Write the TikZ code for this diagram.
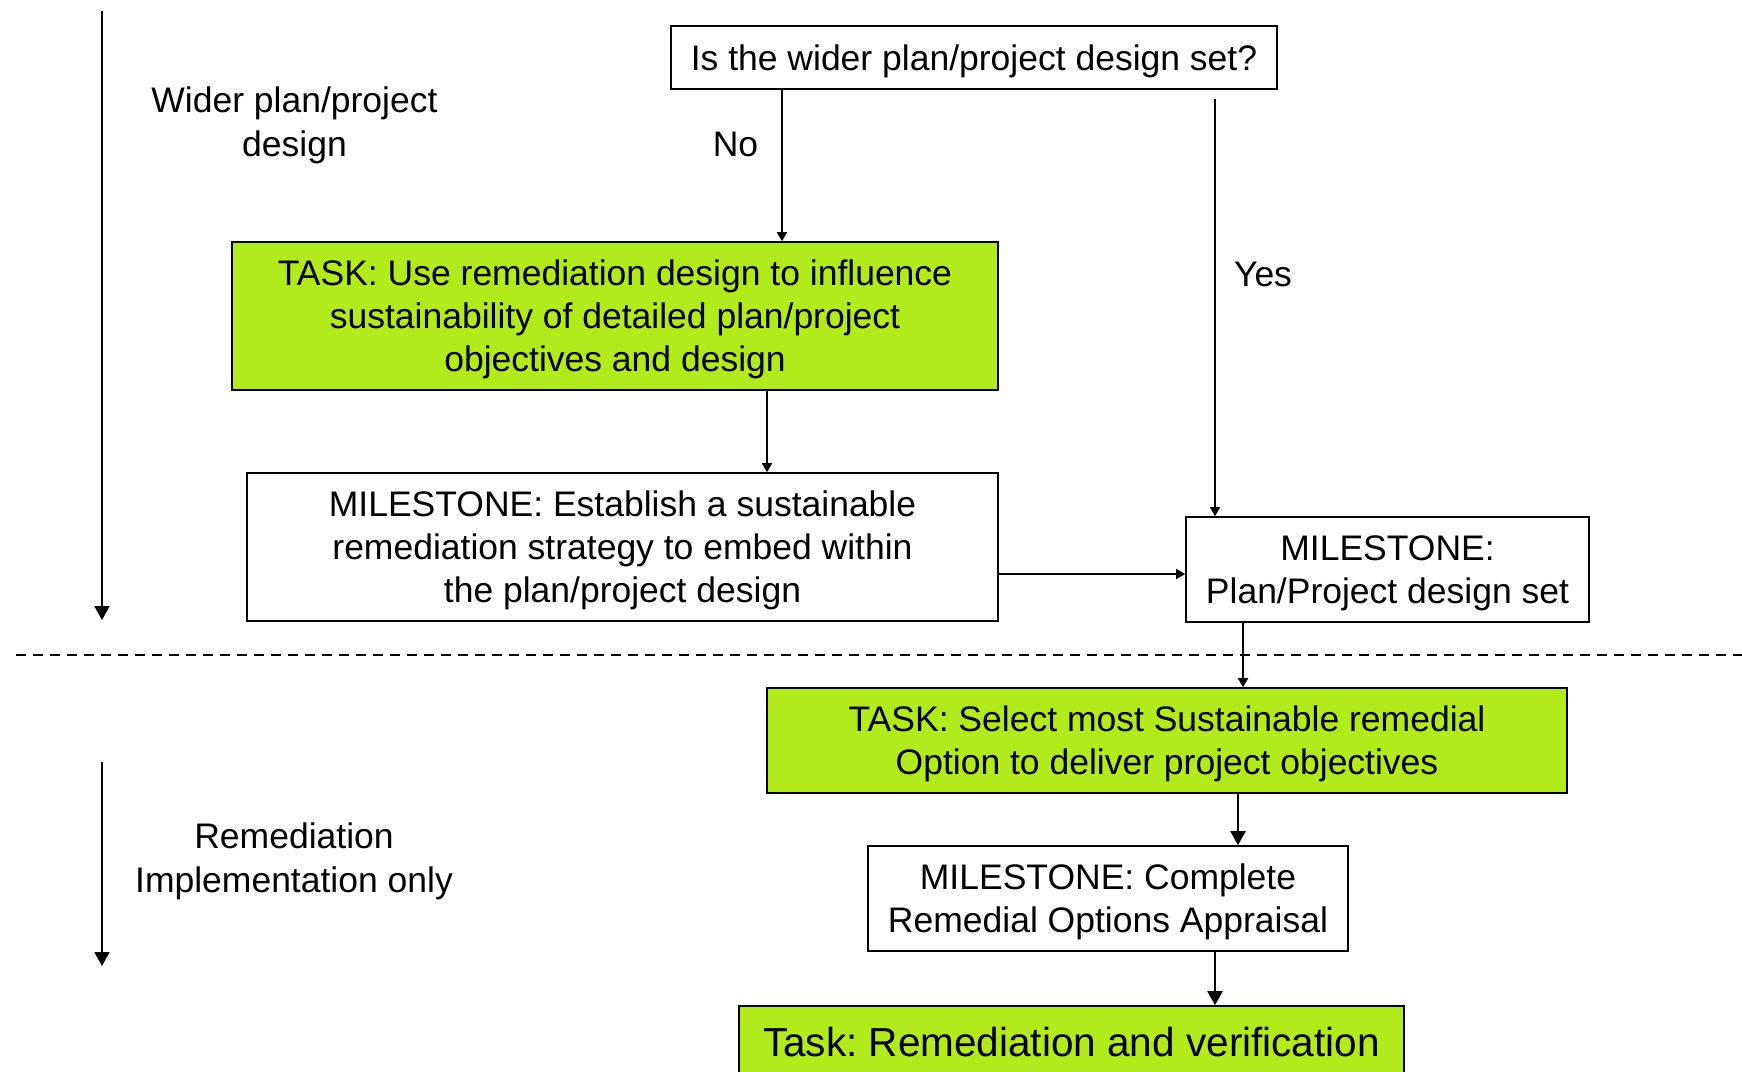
\documentclass[tikz,border=0pt]{standalone}
\usepackage{fontspec}
\setmainfont{Liberation Sans}
\usetikzlibrary{arrows.meta}
\definecolor{taskgreen}{RGB}{178,235,28}
\frenchspacing
\tikzset{
  box/.style={draw, line width=0.8pt, align=center, inner sep=0pt, text depth=0pt, font=\fontsize{17.75}{21.5}\selectfont},
  taskbox/.style={box, fill=taskgreen},
  msbox/.style={box, fill=white},
  arr/.style={-{Triangle[length=4.5pt,width=5pt]}, line width=0.8pt},
  bigarr/.style={-{Triangle[length=7pt,width=7.5pt]}, line width=1pt},
  lbl/.style={align=center, text depth=0pt, font=\fontsize{17.75}{22}\selectfont}
}
\begin{document}
\begin{tikzpicture}[x=0.5pt, y=-0.5pt]

\path[use as bounding box, clip] (0,0) rectangle (1742,1072);

% phase arrows on the left
\coordinate (wtop) at (102,11); \coordinate (wbot) at (102,620);
\draw[bigarr] (wtop) -- (wbot);
\node[lbl] (wider) at (294.5,122) {Wider plan/project\\design};

\coordinate (rtop) at (102,762); \coordinate (rbot) at (102,966);
\draw[bigarr] (rtop) -- (rbot);
\node[lbl] (remed) at (294,858) {Remediation\\Implementation only};

% boxes
\node[msbox, minimum width=303pt, minimum height=31.5pt] (q) at (974,57.5) {Is the wider plan/project design set?};
\node[taskbox, minimum width=383pt, minimum height=74pt] (task1) at (615,316)
  {TASK: Use remediation design to influence\\sustainability of detailed plan/project\\objectives and design};
\node[msbox, minimum width=375.5pt, minimum height=74pt] (ms1) at (622.5,547)
  {MILESTONE: Establish a sustainable\\remediation strategy to embed within\\the plan/project design};
\node[msbox, minimum width=201.5pt, minimum height=52.5pt] (ms2) at (1387.5,569.5)
  {MILESTONE:\\Plan/Project design set};
\node[taskbox, minimum width=400pt, minimum height=52.5pt] (task2) at (1167,740.5)
  {TASK: Select most Sustainable remedial\\Option to deliver project objectives};
\node[msbox, minimum width=240pt, minimum height=52.5pt] (ms3) at (1108,898.5)
  {MILESTONE: Complete\\Remedial Options Appraisal};
\node[taskbox, minimum width=332.5pt, minimum height=35.7pt, font=\fontsize{20.25}{24}\selectfont] (task3) at (1071.5,1041.7)
  {Task: Remediation and verification};

% labels on the branches
\node[lbl] (no) at (735.5,144.5) {No};
\node[lbl] (yes) at (1263,274) {Yes};

% dashed divider
\coordinate (dl) at (16,655); \coordinate (dr) at (1742,655);
\draw[dashed, dash pattern=on 5pt off 3.5pt, line width=0.8pt] (dl) -- (dr);

% connectors
\draw[arr] ([xshift=-96pt]q.south) coordinate (nofrom) -- (nofrom |- task1.north);
\draw[arr] ([xshift=120.5pt,yshift=-4.5pt]q.south) coordinate (yesfrom) -- (yesfrom |- ms2.north);
\draw[arr] ([xshift=76pt]task1.south) coordinate (t1from) -- (t1from |- ms1.north);
\draw[arr] ([yshift=-13.5pt]ms1.east) coordinate (m1from) -- (m1from -| ms2.west);
\draw[arr] ([xshift=-72.25pt]ms2.south) coordinate (m2from) -- (m2from |- task2.north);
\draw[bigarr] ([xshift=35.5pt]task2.south) coordinate (t2from) -- (t2from |- ms3.north);
\draw[bigarr] ([xshift=53.5pt]ms3.south) coordinate (m3from) -- (m3from |- task3.north);

\end{tikzpicture}
\end{document}
